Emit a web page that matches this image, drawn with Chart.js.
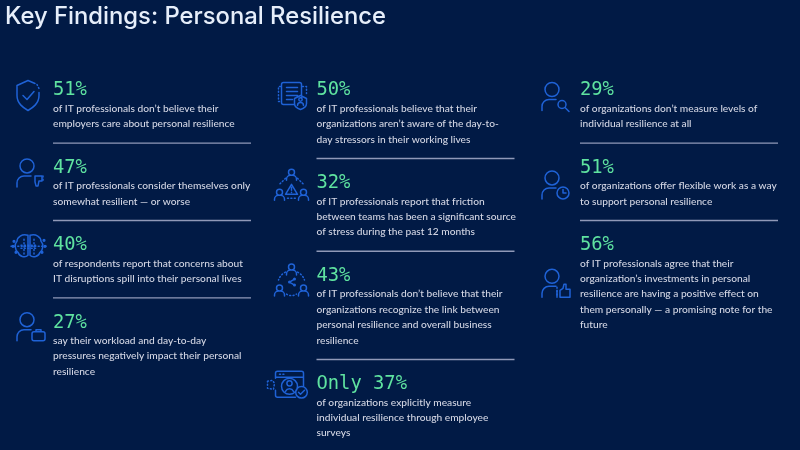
<!DOCTYPE html>
<html>
<head>
<meta charset="utf-8">
<title>Key Findings: Personal Resilience</title>
<script src="https://cdn.jsdelivr.net/npm/chart.js@4"></script>
<style>
    html, body { margin: 0; padding: 0; background: #011a45; }
    canvas { display: block; }
</style>
</head>
<body>
<canvas id="findings" width="800" height="450"></canvas>
<script>
var chartTitle = 'Key Findings: Personal Resilience';

// one entry per finding, column by column
var findingColumns = [0, 0, 0, 0, 1, 1, 1, 1, 2, 2, 2];
var findingValues = ['51%', '47%', '40%', '27%', '50%', '32%', '43%', 'Only 37%', '29%', '51%', '56%'];
var findingTexts = [
    ['of IT professionals don\u2019t believe their', 'employers care about personal resilience'],
    ['of IT professionals consider themselves only', 'somewhat resilient \u2014 or worse'],
    ['of respondents report that concerns about', 'IT disruptions spill into their personal lives'],
    ['say their workload and day-to-day', 'pressures negatively impact their personal', 'resilience'],
    ['of IT professionals believe that their', 'organizations aren\u2019t aware of the day-to-', 'day stressors in their working lives'],
    ['of IT professionals report that friction', 'between teams has been a significant source', 'of stress during the past 12 months'],
    ['of IT professionals don\u2019t believe that their', 'organizations recognize the link between', 'personal resilience and overall business', 'resilience'],
    ['of organizations explicitly measure', 'individual resilience through employee', 'surveys'],
    ['of organizations don\u2019t measure levels of', 'individual resilience at all'],
    ['of organizations offer flexible work as a way', 'to support personal resilience'],
    ['of IT professionals agree that their', 'organization\u2019s investments in personal', 'resilience are having a positive effect on', 'them personally \u2014 a promising note for the', 'future']
];
var findingIcons = ['shield', 'thumbDown', 'brain', 'briefcase', 'document', 'warning', 'share', 'browser', 'search', 'clock', 'thumbUp'];

// layout, in pixels
var page = { columnStart: 53, columnStep: 263.5, ruleWidth: 198, firstRow: 88.5, toText: 19.5, lineStep: 15.4, toRule: 19.7, toNext: 22.8 };
var iconShift = [[-25, 7], [-23, 7], [-24, 3], [-23, 6], [-24, 7], [-25, 4], [-25, 7], [-28, 2], [-25, 8], [-25, 19], [-25, 40]];

var colors = { background: '#011a45', title: '#e6eefa', value: '#5fe3a0', text: '#d3d6e4', rule: '#9099b8', icon: '#1f62d6' };

function circle(x, y, r) {
    return 'M' + (x + r) + ',' + y + 'a' + r + ',' + r + ' 0 1 0 ' + (-2 * r) + ',0a' + r + ',' + r + ' 0 1 0 ' + (2 * r) + ',0';
}
function smallPerson(x, y) {
    return circle(x, y - 3, 3) + 'M' + (x - 5) + ',' + (y + 5) + 'v-1a4,4 0 0 1 4,-4h2a4,4 0 0 1 4,4v1';
}
var person = circle(-3, -7, 7) + 'M-13,14v-4a7,7 0 0 1 7,-7h7';

var iconShapes = {
    shield: { solid: 'M7,-12L0,-15L-11,-10V0C-11,8 -5,12 0,15C5,12 11,8 11,0V-3M-5,0l4,4l7,-8', dotted: 'M9,-11L11,-7' },
    thumbDown: { solid: person + 'M5,3h7v5h-3l-1,5h-2l-1,-4z', dotted: 'M13,3v6' },
    brain: {
        solid: 'M-1,-11C-7,-13 -12,-9 -12,-5C-15,-2 -14,4 -11,6C-10,10 -4,12 -1,9V-11M1,-11C7,-13 12,-9 12,-5C15,-2 14,4 11,6C10,10 4,12 1,9V-11',
        dotted: 'M-8,-1H8M-8,2H8M-18,0H18M-5,-7V8M5,-7V8',
        filled: circle(-16, 0, 1.6) + circle(-13, 6, 1.6) + circle(-15, -5, 1.6) + circle(16, 0, 1.6) + circle(13, 6, 1.6) + circle(15, -6, 1.6)
    },
    briefcase: { solid: person + 'M4,5h9a2,2 0 0 1 2,2v5a2,2 0 0 1 -2,2h-9a2,2 0 0 1 -2,-2v-5a2,2 0 0 1 2,-2M6,5v-2h5v2' },
    document: {
        solid: 'M9,3V-11a2,2 0 0 0 -2,-2H-9a2,2 0 0 0 -2,2V7a2,2 0 0 0 2,2H1M-6,-8H5M-6,-4H5M-6,0H5M-6,4H0M2,3L8,0L14,3V8C14,11 11,13 8,14C5,13 2,11 2,8Z' + circle(8, 4, 1.7) + 'M5,10a3,3 0 0 1 6,0',
        dotted: 'M-12,-9H-14V6H-12M10,-9H14V-2'
    },
    warning: {
        solid: smallPerson(0, -10) + smallPerson(-12, 10) + smallPerson(12, 10) + 'M0,-1L6,9H-6ZM0,2V5M0,7V7.2',
        dotted: 'M-6,-7L-12,-1M6,-7L12,-1M-4,13H4'
    },
    share: {
        solid: smallPerson(0, -11) + smallPerson(-12, 10) + smallPerson(12, 10) + 'M3,-2L-2,1L3,4',
        filled: circle(3, -2, 1.5) + circle(-2, 1, 1.5) + circle(3, 4, 1.5),
        dotted: 'M-6,-9C-10,-7 -12,-4 -13,-1M6,-9C10,-7 12,-4 13,-1M-5,13C-2,15 2,15 5,13'
    },
    browser: {
        solid: 'M-13,-6V-11a2,2 0 0 1 2,-2H13a2,2 0 0 1 2,2V2M-13,6V11a2,2 0 0 0 2,2H7M-13,-7H15' + circle(1, 2, 8) + circle(1, -1, 2.6) + 'M-3,7a4.5,4.5 0 0 1 8,0' + circle(13, 8, 5.8) + 'M10,8l2,2l4,-4',
        dotted: 'M-21,-3L-16,-4L-14,-1L-15,5L-21,4ZM-9,-10H-4'
    },
    search: { solid: person + circle(7, 8, 4) + 'M10,11l4,4' },
    clock: { solid: person + circle(8, 8, 6) + 'M8,4.5V8H11' },
    thumbUp: { solid: person + 'M5,14V7l3,-2l1,-4h2v5h4v8zM2,7v7', dotted: 'M2,4v8' }
};

function drawIcon(ctx, name, x, y) {
    var shape = iconShapes[name];
    ctx.save();
    ctx.translate(x, y);
    ctx.strokeStyle = colors.icon;
    ctx.fillStyle = colors.icon;
    ctx.lineWidth = 1.5;
    ctx.lineCap = 'round';
    ctx.lineJoin = 'round';
    if (shape.solid) ctx.stroke(new Path2D(shape.solid));
    if (shape.filled) ctx.fill(new Path2D(shape.filled));
    if (shape.dotted) {
        ctx.setLineDash([1, 2.4]);
        ctx.stroke(new Path2D(shape.dotted));
    }
    ctx.restore();
}

// y of each finding, flowing down its column
function rowPositions() {
    var rows = [];
    var nextY = {};
    findingValues.forEach(function (value, i) {
        var column = findingColumns[i];
        var y = nextY[column] === undefined ? page.firstRow : nextY[column];
        rows.push({ x: column, y: y });
        nextY[column] = y + page.toText + page.lineStep * (findingTexts[i].length - 1) + page.toRule + page.toNext;
    });
    return rows;
}

var findingText = {
    id: 'findingText',
    afterDatasetsDraw: function (chart) {
        var ctx = chart.ctx;
        var points = chart.getDatasetMeta(0).data;
        ctx.save();
        ctx.textBaseline = 'middle';
        ctx.textAlign = 'left';
        points.forEach(function (point, i) {
            ctx.fillStyle = colors.value;
            ctx.font = '18.8px "DejaVu Sans Mono"';
            ctx.fillText(findingValues[i], point.x, point.y + 2);

            ctx.fillStyle = colors.text;
            ctx.font = '500 10.2px Lato';
            var lineY = point.y + page.toText;
            findingTexts[i].forEach(function (line, n) {
                ctx.fillText(line, point.x, lineY + 0.5 + n * page.lineStep);
            });

            var last = i === points.length - 1 || findingColumns[i + 1] !== findingColumns[i];
            if (!last) {
                var ruleY = lineY + page.lineStep * (findingTexts[i].length - 1) + page.toRule;
                ctx.strokeStyle = colors.rule;
                ctx.lineWidth = 1.4;
                ctx.beginPath();
                ctx.moveTo(point.x, ruleY);
                ctx.lineTo(point.x + page.ruleWidth, ruleY);
                ctx.stroke();
            }
            drawIcon(ctx, findingIcons[i], point.x + iconShift[i][0], point.y + iconShift[i][1]);
        });
        ctx.restore();
    }
};

var paddingLeft = 5;
var titleBlock = 33;
var xMin = -(page.columnStart - paddingLeft) / page.columnStep;

new Chart(document.getElementById('findings'), {
    type: 'scatter',
    data: {
        datasets: [{ data: rowPositions(), pointRadius: 0 }]
    },
    options: {
        responsive: false,
        animation: false,
        devicePixelRatio: 1,
        events: [],
        layout: { padding: { left: paddingLeft } },
        plugins: {
            legend: { display: false },
            tooltip: { enabled: false },
            title: {
                display: true,
                text: chartTitle,
                align: 'start',
                color: colors.title,
                font: { family: 'Inter', size: 23.8, weight: '500', lineHeight: 1 },
                padding: { top: 5, bottom: 4.2 }
            }
        },
        scales: {
            x: { type: 'linear', display: false, min: xMin, max: xMin + 795 / page.columnStep },
            y: { type: 'linear', display: false, reverse: true, min: titleBlock, max: 450 }
        }
    },
    plugins: [{
        id: 'pageBackground',
        beforeDraw: function (chart) {
            chart.ctx.fillStyle = colors.background;
            chart.ctx.fillRect(0, 0, chart.width, chart.height);
        }
    }, findingText]
});
</script>
</body>
</html>
